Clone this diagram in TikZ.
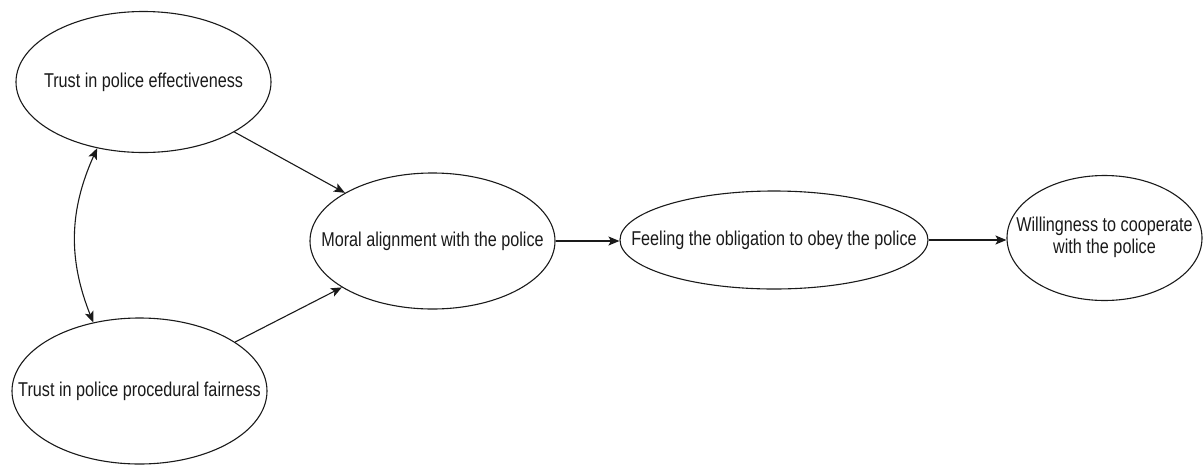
\documentclass[tikz,border=0pt]{standalone}
\usepackage{fontspec}
\setmainfont{Liberation Sans}[FakeStretch=0.81]
\usetikzlibrary{shapes.geometric,arrows.meta}
\definecolor{ink}{HTML}{1A1A1A}
\newcommand{\ctext}[1]{\makebox[0pt][c]{#1}}
\begin{document}
\begin{tikzpicture}[x=1pt,y=-1pt,
  construct/.style={ellipse,draw=ink,line width=1.1pt,inner sep=0pt,
    text=ink,font=\fontsize{20}{22}\selectfont},
  path/.style={draw=ink,line width=1.1pt,
    -{Stealth[length=11pt,width=9pt,inset=2.5pt]}},
  covary/.style={draw=ink,line width=1.1pt,
    {Stealth[length=11pt,width=9pt,inset=2.5pt]}-{Stealth[length=11pt,width=9pt,inset=2.5pt]}}
]
\useasboundingbox[fill=white] (0,0) rectangle (1203,464);

% latent constructs
\node[construct,minimum width=255,minimum height=141] (eff) at (143.5,82)
  {\ctext{Trust in police effectiveness}};
\node[construct,minimum width=255,minimum height=146] (fair) at (139.5,391)
  {\ctext{Trust in police procedural fairness}};
\node[construct,minimum width=245,minimum height=136] (moral) at (432.5,241)
  {\ctext{Moral alignment with the police}};
\node[construct,minimum width=308,minimum height=98] (oblig) at (774,240)
  {\ctext{Feeling the obligation to obey the police}};
\node[construct,minimum width=195,minimum height=125] (will) at (1104.5,238)
  {\ctext{\raisebox{-3pt}{\begin{tabular}{@{}c@{}}Willingness to cooperate\\with the police\end{tabular}}}};

% structural paths
\draw[path] (eff) -- (moral);
\draw[path] (fair) -- (moral);
\draw[path] (moral.east) -- (moral.east -| oblig.west);
\draw[path] (oblig.east) -- (oblig.east -| will.west);

% covariance between the two trust constructs
\draw[covary] (eff.235) to[bend right=23] (fair.124);
\end{tikzpicture}
\end{document}
